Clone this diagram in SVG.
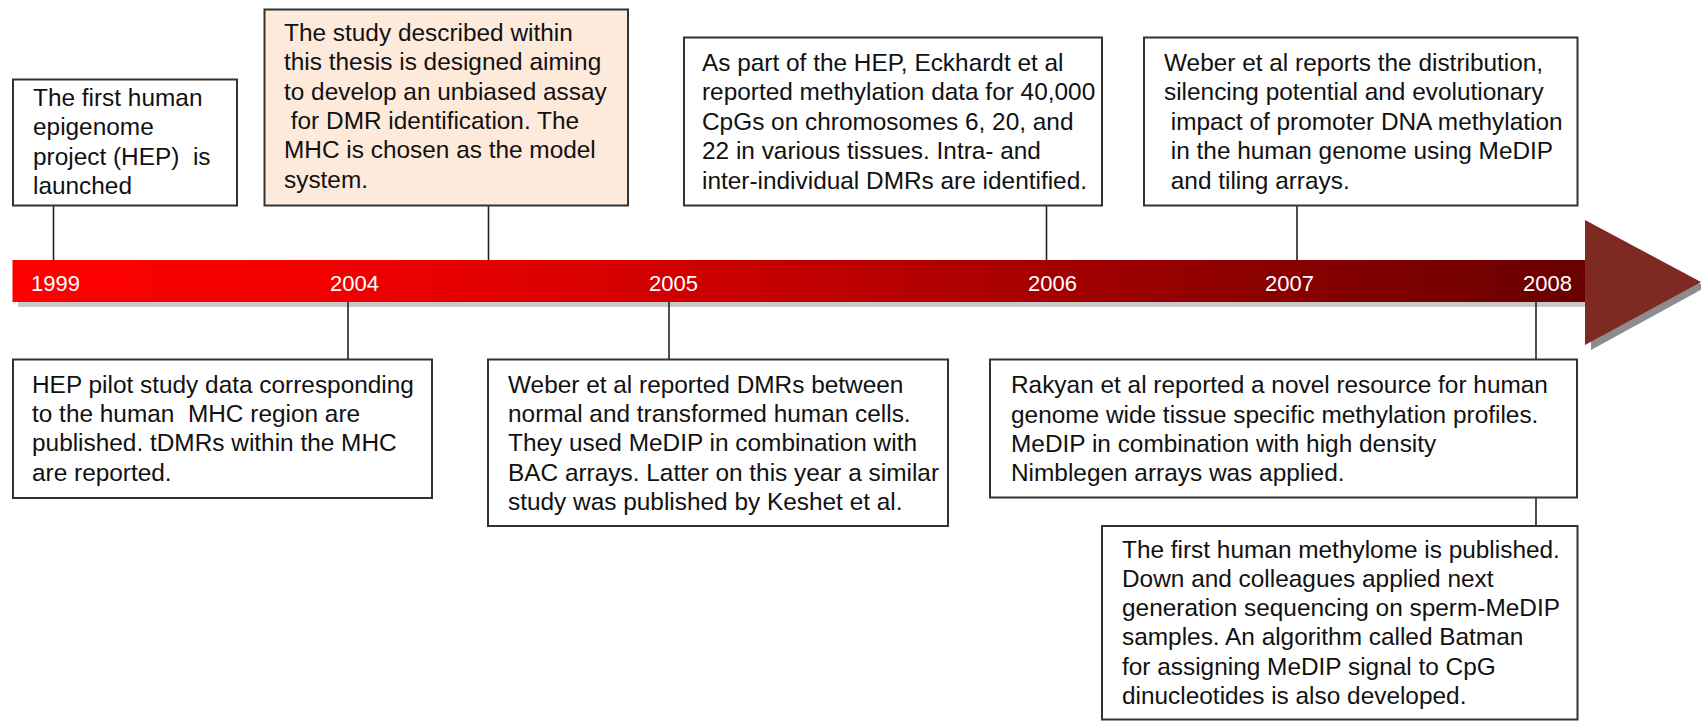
<svg xmlns="http://www.w3.org/2000/svg" width="1701" height="721" viewBox="0 0 1701 721">
  <style>
    .box { fill: #ffffff; stroke: #333333; stroke-width: 2; }
    .peach { fill: #fdeadb; }
    .txt { font-family: "Liberation Sans", Arial, sans-serif; font-size: 24.4px; fill: #111111; white-space: pre; }
    .year { font-family: "Liberation Sans", Arial, sans-serif; font-size: 22px; fill: #ffffff; }
    .conn { stroke: #222222; stroke-width: 1.6; fill: none; }
  </style>
  <defs>
    <linearGradient id="barGrad" gradientUnits="userSpaceOnUse" x1="12" y1="0" x2="1586" y2="0">
      <stop offset="0" stop-color="#ff0000"/>
      <stop offset="0.2" stop-color="#f20000"/>
      <stop offset="0.4" stop-color="#d40000"/>
      <stop offset="0.6" stop-color="#b00000"/>
      <stop offset="0.8" stop-color="#8a0000"/>
      <stop offset="1" stop-color="#6a0000"/>
    </linearGradient>
  </defs>

  <rect width="1701" height="721" fill="#ffffff"/>

  <g id="timeline">
    <rect x="18" y="265" width="1573" height="42" fill="#c8c8c8"/>
    <polygon points="1591,225 1706,287 1591,350" fill="#8c8c8c"/>
    <rect x="12.5" y="260" width="1573" height="42" fill="url(#barGrad)"/>
    <polygon points="1585,220 1701,282 1585,345" fill="#7e2a22"/>
    <text class="year" x="31" y="291">1999</text>
    <text class="year" x="330" y="291">2004</text>
    <text class="year" x="649" y="291">2005</text>
    <text class="year" x="1028" y="291">2006</text>
    <text class="year" x="1265" y="291">2007</text>
    <text class="year" x="1523" y="291">2008</text>
  </g>

  <g id="connectors">
    <line class="conn" x1="53.5" y1="206" x2="53.5" y2="260"/>
    <line class="conn" x1="488.5" y1="206" x2="488.5" y2="260"/>
    <line class="conn" x1="1046.5" y1="206" x2="1046.5" y2="260"/>
    <line class="conn" x1="1297" y1="206" x2="1297" y2="260"/>
    <line class="conn" x1="348" y1="302" x2="348" y2="359"/>
    <line class="conn" x1="669" y1="302" x2="669" y2="359"/>
    <line class="conn" x1="1536" y1="302" x2="1536" y2="359"/>
    <line class="conn" x1="1536" y1="498" x2="1536" y2="526"/>
  </g>

  <g id="node-1999">
    <rect class="box" x="13" y="79.5" width="224" height="126"/>
    <text class="txt">
      <tspan x="33" y="106">The first human</tspan>
      <tspan x="33" y="135.3">epigenome</tspan>
      <tspan x="33" y="164.6">project (HEP)  is</tspan>
      <tspan x="33" y="193.9">launched</tspan>
    </text>
  </g>

  <g id="node-thesis">
    <rect class="box peach" x="264.5" y="9.5" width="363.5" height="196"/>
    <text class="txt">
      <tspan x="284" y="41">The study described within</tspan>
      <tspan x="284" y="70.3">this thesis is designed aiming</tspan>
      <tspan x="284" y="99.6">to develop an unbiased assay</tspan>
      <tspan x="284" y="128.9"> for DMR identification. The</tspan>
      <tspan x="284" y="158.2">MHC is chosen as the model</tspan>
      <tspan x="284" y="187.5">system.</tspan>
    </text>
  </g>

  <g id="node-2006">
    <rect class="box" x="684" y="37.5" width="418" height="168"/>
    <text class="txt">
      <tspan x="702" y="71">As part of the HEP, Eckhardt et al</tspan>
      <tspan x="702" y="100.4">reported methylation data for 40,000</tspan>
      <tspan x="702" y="129.8">CpGs on chromosomes 6, 20, and</tspan>
      <tspan x="702" y="159.2">22 in various tissues. Intra- and</tspan>
      <tspan x="702" y="188.6">inter-individual DMRs are identified.</tspan>
    </text>
  </g>

  <g id="node-2007">
    <rect class="box" x="1144" y="37.5" width="433.5" height="168"/>
    <text class="txt">
      <tspan x="1164" y="71">Weber et al reports the distribution,</tspan>
      <tspan x="1164" y="100.4">silencing potential and evolutionary</tspan>
      <tspan x="1164" y="129.8"> impact of promoter DNA methylation</tspan>
      <tspan x="1164" y="159.2"> in the human genome using MeDIP</tspan>
      <tspan x="1164" y="188.6"> and tiling arrays.</tspan>
    </text>
  </g>

  <g id="node-2004">
    <rect class="box" x="13" y="359.5" width="419" height="138.5"/>
    <text class="txt">
      <tspan x="32" y="392.7">HEP pilot study data corresponding</tspan>
      <tspan x="32" y="422">to the human  MHC region are</tspan>
      <tspan x="32" y="451.3">published. tDMRs within the MHC</tspan>
      <tspan x="32" y="480.6">are reported.</tspan>
    </text>
  </g>

  <g id="node-2005">
    <rect class="box" x="488" y="359.5" width="460" height="166.5"/>
    <text class="txt">
      <tspan x="508" y="392.7">Weber et al reported DMRs between</tspan>
      <tspan x="508" y="422">normal and transformed human cells.</tspan>
      <tspan x="508" y="451.3">They used MeDIP in combination with</tspan>
      <tspan x="508" y="480.6">BAC arrays. Latter on this year a similar</tspan>
      <tspan x="508" y="509.9">study was published by Keshet et al.</tspan>
    </text>
  </g>

  <g id="node-2008a">
    <rect class="box" x="990" y="359.5" width="587" height="138"/>
    <text class="txt">
      <tspan x="1011" y="393.3">Rakyan et al reported a novel resource for human</tspan>
      <tspan x="1011" y="422.6">genome wide tissue specific methylation profiles.</tspan>
      <tspan x="1011" y="451.9">MeDIP in combination with high density</tspan>
      <tspan x="1011" y="481.2">Nimblegen arrays was applied.</tspan>
    </text>
  </g>

  <g id="node-2008b">
    <rect class="box" x="1102" y="526" width="475.5" height="193.5"/>
    <text class="txt">
      <tspan x="1122" y="557.5">The first human methylome is published.</tspan>
      <tspan x="1122" y="586.8">Down and colleagues applied next</tspan>
      <tspan x="1122" y="616.1">generation sequencing on sperm-MeDIP</tspan>
      <tspan x="1122" y="645.4">samples. An algorithm called Batman</tspan>
      <tspan x="1122" y="674.7">for assigning MeDIP signal to CpG</tspan>
      <tspan x="1122" y="704">dinucleotides is also developed.</tspan>
    </text>
  </g>
</svg>
